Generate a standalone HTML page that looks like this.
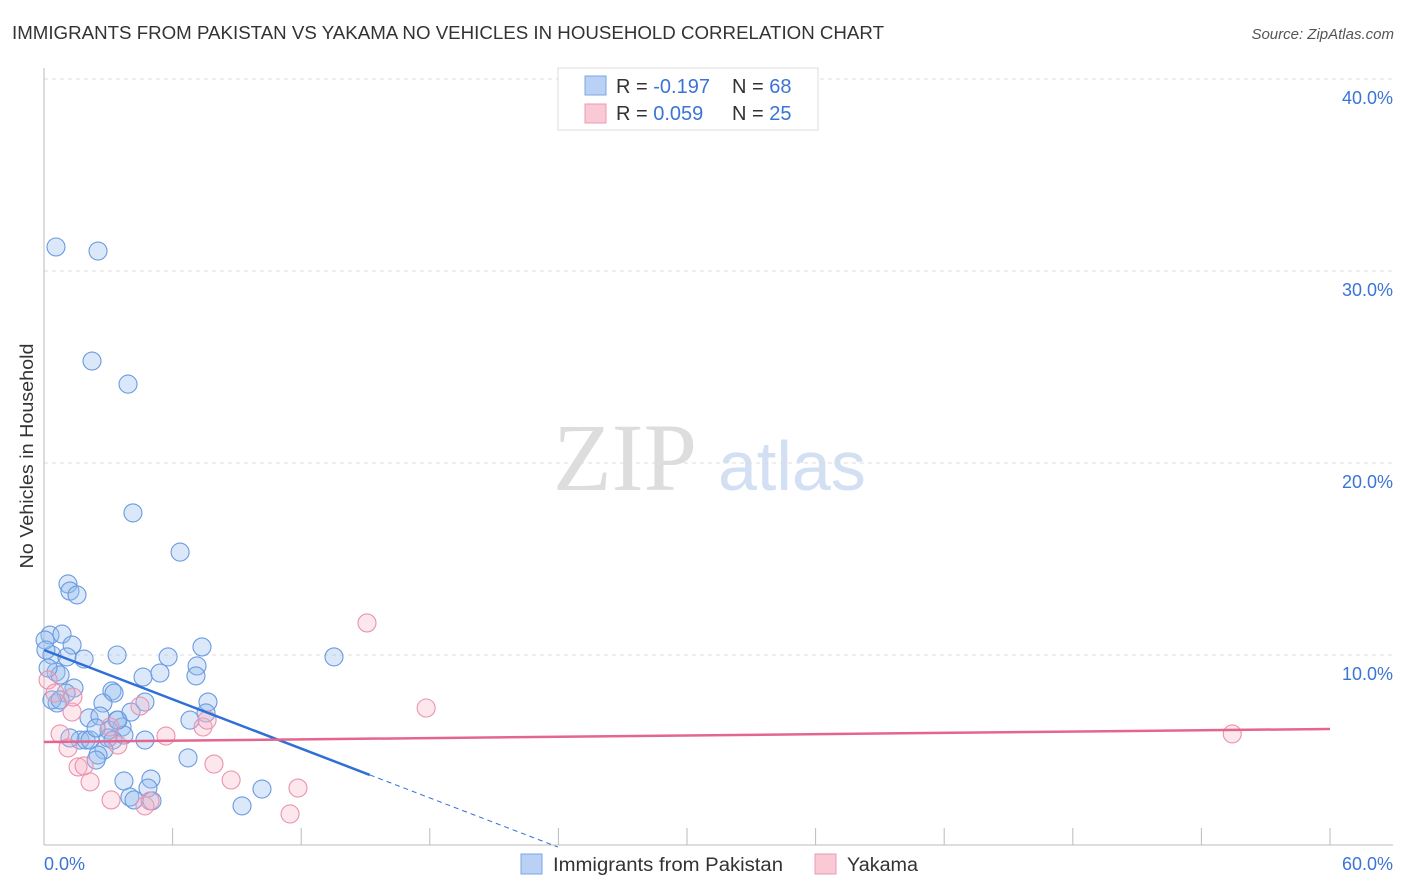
<!DOCTYPE html>
<html><head><meta charset="utf-8"><style>
body{margin:0;width:1406px;height:892px;background:#fff;font-family:"Liberation Sans",sans-serif;overflow:hidden}
svg{position:absolute;left:0;top:0}
</style></head><body>
<svg id="chart" width="1406" height="892">
<text x="12" y="39" font-size="18" fill="#333" textLength="872" lengthAdjust="spacingAndGlyphs">IMMIGRANTS FROM PAKISTAN VS YAKAMA NO VEHICLES IN HOUSEHOLD CORRELATION CHART</text>
<text x="1394" y="39" font-size="15" fill="#555" font-style="italic" text-anchor="end">Source: ZipAtlas.com</text>
<text x="33" y="456" font-size="18" fill="#333" text-anchor="middle" textLength="225" lengthAdjust="spacingAndGlyphs" transform="rotate(-90 33 456)">No Vehicles in Household</text>
<g>
<text x="553" y="490" font-size="96" fill="#ddd" font-family="Liberation Serif,serif">ZIP</text>
<text x="718" y="490" font-size="70" fill="#d3e0f3">atlas</text>
</g>
<g id="grid"></g><g id="axes"></g><g id="marks"></g><g id="trends"></g>
<g>
<rect x="558" y="68" width="260" height="62" fill="#fff" stroke="#ddd"/>
<rect x="585" y="76" width="21" height="19" fill="#b8d1f5" stroke="#7da6e3"/>
<rect x="585" y="104" width="21" height="19" fill="#f9c9d6" stroke="#eb9ab2"/>
<text x="616" y="93" font-size="20" fill="#333">R = <tspan fill="#3b74d6">-0.197</tspan></text>
<text x="732" y="93" font-size="20" fill="#333">N = <tspan fill="#3b74d6">68</tspan></text>
<text x="616" y="120" font-size="20" fill="#333">R = <tspan fill="#3b74d6"> 0.059</tspan></text>
<text x="732" y="120" font-size="20" fill="#333">N = <tspan fill="#3b74d6">25</tspan></text>
</g>
<g>
<rect x="521" y="854" width="21" height="20" fill="#b8d1f5" stroke="#7da6e3"/>
<text x="553" y="871" font-size="19" fill="#333" textLength="230" lengthAdjust="spacingAndGlyphs">Immigrants from Pakistan</text>
<rect x="815" y="854" width="21" height="20" fill="#f9c9d6" stroke="#eb9ab2"/>
<text x="847" y="871" font-size="19" fill="#333" textLength="71" lengthAdjust="spacingAndGlyphs">Yakama</text>
</g>
</svg>
<script>
const yTicks=[10,20,30,40];
const xTickCount=10;
const xMax=60;
const blueX=[0.56,2.52,2.24,3.92,4.15,6.35,1.12,1.21,1.54,0.28,0.84,1.31,0.37,1.07,1.87,3.41,5.79,7.37,13.53,0.56,0.75,4.62,5.41,7.14,7.09,1.40,3.17,3.27,1.03,0.61,2.75,4.71,7.65,6.81,7.56,2.10,2.61,3.41,3.64,3.03,3.73,1.68,1.96,2.15,2.99,3.22,2.80,2.52,6.72,3.73,4.99,4.85,4.01,5.04,4.20,9.24,10.17,0.05,0.19,0.09,0.37,0.75,2.43,1.21,3.45,2.43,4.06,4.71];
const blueY=[31.25,31.04,25.31,24.11,17.40,15.36,13.70,13.33,13.13,11.04,11.09,10.52,10.0,9.90,9.79,10.0,9.90,10.42,9.90,9.11,8.96,8.85,9.06,9.43,8.91,8.28,8.13,8.02,8.02,7.5,7.5,7.55,7.55,6.61,6.98,6.72,6.82,6.61,6.25,6.09,5.83,5.57,5.57,5.57,5.68,5.57,5.05,4.79,4.64,3.44,3.54,3.07,2.60,2.40,2.45,2.14,3.02,10.78,9.32,10.26,7.66,7.66,6.20,5.68,6.61,4.53,7.03,5.57];
const pinkX=[15.07,17.83,55.44,0.19,0.51,1.31,0.75,1.12,1.59,1.87,2.15,3.13,4.71,4.95,3.08,4.48,5.69,7.42,7.61,7.93,8.73,11.85,11.48,3.45,1.35];
const pinkY=[11.67,7.24,5.89,8.70,8.02,7.03,5.89,5.16,4.17,4.22,3.39,2.45,2.14,2.40,6.25,7.34,5.78,6.25,6.61,4.32,3.49,3.07,1.72,5.31,7.81];
const blueTrend=[10.26,-0.428];
const pinkTrend=[5.47,0.0113];
const NS='http://www.w3.org/2000/svg';
const X0=44,X1=1330,Y0=847,PPY=19.2;
const sx=v=>X0+(X1-X0)*v/xMax, sy=v=>Y0-v*PPY;
function mk(tag,attrs,parent){const e=document.createElementNS(NS,tag);for(const k in attrs)e.setAttribute(k,attrs[k]);document.getElementById(parent).appendChild(e);return e;}
yTicks.forEach(t=>{
 const l=mk('line',{x1:X0,x2:1393,y1:sy(t),y2:sy(t),stroke:'#ddd','stroke-dasharray':'4,4'},'grid');
 
 
 const tx=mk('text',{x:1393,y:sy(t)+25,'font-size':18,fill:'#3b74d6','text-anchor':'end'},'axes');
 tx.textContent=t.toFixed(1)+'%';
 
 
});
let a=mk('line',{x1:X0,x2:X0,y1:68,y2:845,stroke:'#bbb'},'axes');


a=mk('line',{x1:X0,x2:1393,y1:845,y2:845,stroke:'#bbb'},'axes');


for(let i=1;i<=xTickCount;i++){const x=sx(xMax*i/xTickCount);
 const t=mk('line',{x1:x,x2:x,y1:828,y2:845,stroke:'#bbb'},'axes');
 
 }
let xl=mk('text',{x:44,y:870,'font-size':18,fill:'#3b74d6'},'axes');xl.textContent='0.0%';


xl=mk('text',{x:1393,y:870,'font-size':18,fill:'#3b74d6','text-anchor':'end'},'axes');xl.textContent=xMax.toFixed(1)+'%';


blueX.forEach((v,i)=>{const c=mk('circle',{cx:sx(v),cy:sy(blueY[i]),r:9,fill:'rgba(150,188,238,0.35)',stroke:'#6a9ae0','stroke-width':1.1},'marks');
 
 });
pinkX.forEach((v,i)=>{const c=mk('circle',{cx:sx(v),cy:sy(pinkY[i]),r:9,fill:'rgba(246,176,196,0.3)',stroke:'#ec92ad','stroke-width':1.1},'marks');
 
 });
const bEnd=15.2, bZero=-blueTrend[0]/blueTrend[1];
let tl=mk('line',{x1:sx(0),y1:sy(blueTrend[0]),x2:sx(bEnd),y2:sy(blueTrend[0]+blueTrend[1]*bEnd),stroke:'#2f6fd6','stroke-width':2.5},'trends');


tl=mk('line',{x1:sx(bEnd),y1:sy(blueTrend[0]+blueTrend[1]*bEnd),x2:sx(bZero),y2:sy(0),stroke:'#2f6fd6','stroke-width':1,'stroke-dasharray':'5,4'},'trends');


tl=mk('line',{x1:sx(0),y1:sy(pinkTrend[0]),x2:sx(xMax),y2:sy(pinkTrend[0]+pinkTrend[1]*xMax),stroke:'#e4668f','stroke-width':2.5},'trends');


</script>
</body></html>
